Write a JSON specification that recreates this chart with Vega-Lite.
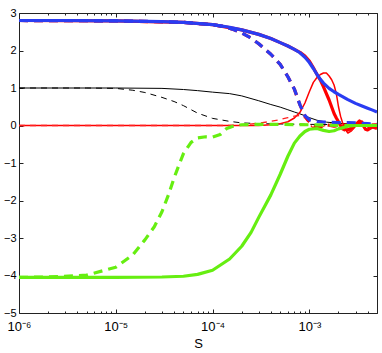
{
  "$schema": "https://vega.github.io/schema/vega-lite/v6.json",
  "width": 358,
  "height": 300,
  "autosize": {"type": "none"},
  "padding": {"left": 19, "top": 13, "right": 5, "bottom": 40},
  "background": "white",
  "config": {
    "view": {"stroke": "#222", "strokeWidth": 1},
    "axis": {
      "grid": false,
      "domain": false,
      "tickColor": "#222",
      "labelFont": "Liberation Sans",
      "labelFontSize": 11,
      "labelColor": "#000",
      "titleFont": "Liberation Sans",
      "titleFontSize": 13,
      "titleFontWeight": "normal",
      "titleColor": "#000",
      "labelOverlap": false,
      "labelFlush": false
    },
    "line": {"strokeCap": "butt", "strokeJoin": "round"}
  },
  "datasets": {
    "blueSolid": [
      {"S": 1e-6, "v": 2.80}, {"S": 3e-6, "v": 2.80}, {"S": 1e-5, "v": 2.79}, {"S": 3e-5, "v": 2.77},
      {"S": 5e-5, "v": 2.75}, {"S": 1e-4, "v": 2.69}, {"S": 1.5e-4, "v": 2.62}, {"S": 2e-4, "v": 2.55},
      {"S": 3e-4, "v": 2.43}, {"S": 4e-4, "v": 2.32}, {"S": 5e-4, "v": 2.21}, {"S": 6e-4, "v": 2.12},
      {"S": 7e-4, "v": 2.03}, {"S": 8e-4, "v": 1.94}, {"S": 9e-4, "v": 1.82}, {"S": 1e-3, "v": 1.68},
      {"S": 1.1e-3, "v": 1.52}, {"S": 1.2e-3, "v": 1.36}, {"S": 1.3e-3, "v": 1.23}, {"S": 1.4e-3, "v": 1.13},
      {"S": 1.6e-3, "v": 0.99}, {"S": 1.8e-3, "v": 0.9}, {"S": 2e-3, "v": 0.83}, {"S": 2.5e-3, "v": 0.69},
      {"S": 3e-3, "v": 0.59}, {"S": 3.5e-3, "v": 0.52}, {"S": 4e-3, "v": 0.46}, {"S": 4.5e-3, "v": 0.41},
      {"S": 5e-3, "v": 0.36}
    ],
    "blueDashed": [
      {"S": 1e-6, "v": 2.80}, {"S": 1e-5, "v": 2.79}, {"S": 3e-5, "v": 2.77}, {"S": 5e-5, "v": 2.75},
      {"S": 1e-4, "v": 2.69}, {"S": 1.3e-4, "v": 2.64}, {"S": 1.6e-4, "v": 2.57}, {"S": 2e-4, "v": 2.47},
      {"S": 2.5e-4, "v": 2.33}, {"S": 3e-4, "v": 2.18}, {"S": 4e-4, "v": 1.9}, {"S": 5e-4, "v": 1.63},
      {"S": 6e-4, "v": 1.3}, {"S": 7e-4, "v": 0.97}, {"S": 8e-4, "v": 0.55}, {"S": 9e-4, "v": 0.26},
      {"S": 1e-3, "v": 0.15}, {"S": 1.2e-3, "v": 0.1}, {"S": 1.5e-3, "v": 0.09}, {"S": 2e-3, "v": 0.08},
      {"S": 3e-3, "v": 0.07}, {"S": 4e-3, "v": 0.05}, {"S": 5e-3, "v": 0.04}
    ],
    "redThick": [
      {"S": 1e-6, "v": 2.80}, {"S": 1e-5, "v": 2.79}, {"S": 5e-5, "v": 2.75}, {"S": 1e-4, "v": 2.69},
      {"S": 2e-4, "v": 2.55}, {"S": 3e-4, "v": 2.43}, {"S": 4e-4, "v": 2.32}, {"S": 5e-4, "v": 2.21},
      {"S": 6e-4, "v": 2.12}, {"S": 7e-4, "v": 2.03}, {"S": 8e-4, "v": 1.95}, {"S": 9e-4, "v": 1.85},
      {"S": 1e-3, "v": 1.72}, {"S": 1.1e-3, "v": 1.54}, {"S": 1.2e-3, "v": 1.36}, {"S": 1.3e-3, "v": 1.21},
      {"S": 1.4e-3, "v": 1.03}, {"S": 1.6e-3, "v": 0.68}, {"S": 1.8e-3, "v": 0.32}, {"S": 1.9e-3, "v": 0.2},
      {"S": 2e-3, "v": 0.1}, {"S": 2.1e-3, "v": 0.0}, {"S": 2.3e-3, "v": -0.1}, {"S": 2.5e-3, "v": -0.12},
      {"S": 2.8e-3, "v": -0.05}, {"S": 3e-3, "v": 0.02}, {"S": 3.3e-3, "v": 0.12}, {"S": 3.5e-3, "v": 0.05},
      {"S": 3.8e-3, "v": -0.1}, {"S": 4e-3, "v": -0.12}, {"S": 4.5e-3, "v": -0.04}, {"S": 5e-3, "v": -0.08}
    ],
    "redThickDashed": [
      {"S": 1e-6, "v": 2.80}, {"S": 1e-5, "v": 2.79}, {"S": 5e-5, "v": 2.75}, {"S": 1e-4, "v": 2.69},
      {"S": 1.3e-4, "v": 2.64}, {"S": 1.6e-4, "v": 2.57}, {"S": 2e-4, "v": 2.47}, {"S": 2.5e-4, "v": 2.33},
      {"S": 3e-4, "v": 2.18}, {"S": 4e-4, "v": 1.9}, {"S": 5e-4, "v": 1.63}, {"S": 6e-4, "v": 1.3},
      {"S": 7e-4, "v": 0.97}, {"S": 8e-4, "v": 0.55}, {"S": 9e-4, "v": 0.26}, {"S": 1e-3, "v": 0.1},
      {"S": 1.1e-3, "v": -0.02}, {"S": 1.2e-3, "v": -0.06}, {"S": 1.3e-3, "v": -0.04}, {"S": 1.5e-3, "v": 0.02},
      {"S": 1.8e-3, "v": -0.02}, {"S": 2e-3, "v": 0.0}, {"S": 2.5e-3, "v": 0.02}, {"S": 3e-3, "v": 0.0},
      {"S": 3.5e-3, "v": 0.04}, {"S": 4e-3, "v": 0.0}, {"S": 5e-3, "v": 0.02}
    ],
    "blackSolid": [
      {"S": 1e-6, "v": 1.0}, {"S": 1e-5, "v": 1.0}, {"S": 3e-5, "v": 0.99}, {"S": 5e-5, "v": 0.96},
      {"S": 7e-5, "v": 0.93}, {"S": 1e-4, "v": 0.89}, {"S": 1.5e-4, "v": 0.85}, {"S": 2e-4, "v": 0.79},
      {"S": 3e-4, "v": 0.66}, {"S": 4e-4, "v": 0.56}, {"S": 5e-4, "v": 0.49}, {"S": 6e-4, "v": 0.42},
      {"S": 7e-4, "v": 0.36}, {"S": 8e-4, "v": 0.31}, {"S": 9e-4, "v": 0.26}, {"S": 1e-3, "v": 0.21},
      {"S": 1.2e-3, "v": 0.14}, {"S": 1.5e-3, "v": 0.09}, {"S": 2e-3, "v": 0.06}, {"S": 3e-3, "v": 0.04},
      {"S": 5e-3, "v": 0.03}
    ],
    "blackDashed": [
      {"S": 1e-6, "v": 1.0}, {"S": 5e-6, "v": 1.0}, {"S": 1e-5, "v": 0.99}, {"S": 1.5e-5, "v": 0.94},
      {"S": 2e-5, "v": 0.88}, {"S": 3e-5, "v": 0.75}, {"S": 4e-5, "v": 0.64}, {"S": 5e-5, "v": 0.53},
      {"S": 7e-5, "v": 0.33}, {"S": 1e-4, "v": 0.19}, {"S": 1.5e-4, "v": 0.11}, {"S": 2e-4, "v": 0.07},
      {"S": 3e-4, "v": 0.05}, {"S": 5e-4, "v": 0.04}, {"S": 1e-3, "v": 0.03}, {"S": 5e-3, "v": 0.02}
    ],
    "redThin": [
      {"S": 1e-6, "v": 0}, {"S": 1e-4, "v": 0}, {"S": 3e-4, "v": 0}, {"S": 4e-4, "v": 0.02},
      {"S": 5e-4, "v": 0.05}, {"S": 6e-4, "v": 0.1}, {"S": 7e-4, "v": 0.2}, {"S": 8e-4, "v": 0.35},
      {"S": 9e-4, "v": 0.6}, {"S": 1e-3, "v": 0.9}, {"S": 1.1e-3, "v": 1.15}, {"S": 1.2e-3, "v": 1.28},
      {"S": 1.3e-3, "v": 1.36}, {"S": 1.4e-3, "v": 1.4}, {"S": 1.5e-3, "v": 1.4}, {"S": 1.6e-3, "v": 1.32},
      {"S": 1.7e-3, "v": 1.22}, {"S": 1.8e-3, "v": 1.08}, {"S": 1.9e-3, "v": 0.85}, {"S": 2e-3, "v": 0.5},
      {"S": 2.1e-3, "v": 0.25}, {"S": 2.2e-3, "v": 0.08}, {"S": 2.35e-3, "v": -0.1}, {"S": 2.5e-3, "v": -0.2},
      {"S": 2.7e-3, "v": -0.15}, {"S": 3e-3, "v": -0.02}, {"S": 3.3e-3, "v": 0.1}, {"S": 3.5e-3, "v": 0.12},
      {"S": 3.8e-3, "v": 0.0}, {"S": 4.2e-3, "v": -0.08}, {"S": 4.6e-3, "v": -0.05}, {"S": 5e-3, "v": 0.02}
    ],
    "redThinDashed": [
      {"S": 1e-6, "v": 0}, {"S": 1.5e-4, "v": 0}, {"S": 2e-4, "v": 0.02}, {"S": 3e-4, "v": 0.06},
      {"S": 4e-4, "v": 0.11}, {"S": 5e-4, "v": 0.16}, {"S": 6e-4, "v": 0.21}, {"S": 7e-4, "v": 0.25},
      {"S": 8e-4, "v": 0.27}, {"S": 9e-4, "v": 0.2}, {"S": 1e-3, "v": 0.05}, {"S": 1.1e-3, "v": -0.08},
      {"S": 1.25e-3, "v": -0.1}, {"S": 1.4e-3, "v": -0.02}, {"S": 1.6e-3, "v": 0.05}, {"S": 1.9e-3, "v": 0.0},
      {"S": 2.2e-3, "v": -0.12}, {"S": 2.5e-3, "v": -0.18}, {"S": 2.8e-3, "v": -0.1}, {"S": 3.2e-3, "v": 0.05},
      {"S": 3.6e-3, "v": 0.08}, {"S": 4e-3, "v": -0.02}, {"S": 4.5e-3, "v": -0.06}, {"S": 5e-3, "v": 0.0}
    ],
    "greenSolid": [
      {"S": 1e-6, "v": -4.05}, {"S": 1e-5, "v": -4.05}, {"S": 3e-5, "v": -4.04}, {"S": 5e-5, "v": -4.02},
      {"S": 7e-5, "v": -3.97}, {"S": 1e-4, "v": -3.86}, {"S": 1.5e-4, "v": -3.56}, {"S": 2e-4, "v": -3.22},
      {"S": 2.5e-4, "v": -2.85}, {"S": 3e-4, "v": -2.45}, {"S": 4e-4, "v": -1.85}, {"S": 5e-4, "v": -1.3},
      {"S": 6e-4, "v": -0.82}, {"S": 7e-4, "v": -0.47}, {"S": 8e-4, "v": -0.28}, {"S": 9e-4, "v": -0.16},
      {"S": 1e-3, "v": -0.1}, {"S": 1.2e-3, "v": -0.08}, {"S": 1.4e-3, "v": -0.13}, {"S": 1.6e-3, "v": -0.16},
      {"S": 1.8e-3, "v": -0.14}, {"S": 2e-3, "v": -0.09}, {"S": 2.5e-3, "v": -0.02}, {"S": 3e-3, "v": 0.0},
      {"S": 5e-3, "v": 0.0}
    ],
    "greenDashed": [
      {"S": 1e-6, "v": -4.05}, {"S": 2e-6, "v": -4.04}, {"S": 5e-6, "v": -3.99}, {"S": 1e-5, "v": -3.78},
      {"S": 1.5e-5, "v": -3.45}, {"S": 2e-5, "v": -3.05}, {"S": 2.5e-5, "v": -2.7}, {"S": 3e-5, "v": -2.3},
      {"S": 3.5e-5, "v": -1.85}, {"S": 4e-5, "v": -1.4}, {"S": 4.5e-5, "v": -1.05}, {"S": 5e-5, "v": -0.75},
      {"S": 6e-5, "v": -0.45}, {"S": 7e-5, "v": -0.33}, {"S": 8.5e-5, "v": -0.3}, {"S": 1e-4, "v": -0.31},
      {"S": 1.2e-4, "v": -0.24}, {"S": 1.4e-4, "v": -0.08}, {"S": 1.7e-4, "v": 0.0}, {"S": 2e-4, "v": 0.02},
      {"S": 3e-4, "v": 0.03}, {"S": 5e-4, "v": 0.03}, {"S": 1e-3, "v": 0.02}, {"S": 2e-3, "v": 0.0},
      {"S": 5e-3, "v": 0.0}
    ]
  },
  "resolve": {"axis": {"x": "independent", "y": "independent"}},
  "layer": [
    {
      "data": {"name": "blackSolid"},
      "mark": {"type": "line", "color": "#000000", "strokeWidth": 1, "clip": true},
      "encoding": {
        "x": {
          "field": "S", "type": "quantitative",
          "scale": {"type": "log", "domain": [1e-6, 5e-3], "nice": false},
          "axis": {
            "orient": "bottom", "title": "S", "titlePadding": 2,
            "values": [1e-6, 2e-6, 3e-6, 4e-6, 5e-6, 6e-6, 7e-6, 8e-6, 9e-6, 1e-5, 2e-5, 3e-5, 4e-5, 5e-5, 6e-5, 7e-5, 8e-5, 9e-5, 1e-4, 2e-4, 3e-4, 4e-4, 5e-4, 6e-4, 7e-4, 8e-4, 9e-4, 1e-3, 2e-3, 3e-3, 4e-3, 5e-3],
            "tickSize": {"condition": {"test": "abs(log(datum.value)/LN10 - round(log(datum.value)/LN10)) < 0.001", "value": -4}, "value": -2},
            "labelPadding": 11,
            "labelFontSize": 13,
            "labelDx": 3,
            "labelExpr": "abs(log(datum.value)/LN10 - round(log(datum.value)/LN10)) > 0.001 ? '' : round(log(datum.value)/LN10) == -6 ? '10⁻⁶' : round(log(datum.value)/LN10) == -5 ? '10⁻⁵' : round(log(datum.value)/LN10) == -4 ? '10⁻⁴' : '10⁻³'"
          }
        },
        "y": {
          "field": "v", "type": "quantitative",
          "scale": {"domain": [-5, 3], "nice": false, "zero": false},
          "axis": {"orient": "left", "title": null, "values": [-5, -4, -3, -2, -1, 0, 1, 2, 3], "tickSize": -4, "labelPadding": 7, "format": "d"}
        }
      }
    },
    {
      "data": {"name": "blackDashed"},
      "mark": {"type": "line", "color": "#000000", "strokeWidth": 1, "strokeDash": [6, 5], "clip": true},
      "encoding": {
        "x": {"field": "S", "type": "quantitative", "scale": {"type": "log", "domain": [1e-6, 5e-3], "nice": false},
          "axis": {"orient": "top", "title": null, "labels": false,
            "values": [1e-6, 2e-6, 3e-6, 4e-6, 5e-6, 6e-6, 7e-6, 8e-6, 9e-6, 1e-5, 2e-5, 3e-5, 4e-5, 5e-5, 6e-5, 7e-5, 8e-5, 9e-5, 1e-4, 2e-4, 3e-4, 4e-4, 5e-4, 6e-4, 7e-4, 8e-4, 9e-4, 1e-3, 2e-3, 3e-3, 4e-3, 5e-3],
            "tickSize": {"condition": {"test": "abs(log(datum.value)/LN10 - round(log(datum.value)/LN10)) < 0.001", "value": -4}, "value": -2}}},
        "y": {"field": "v", "type": "quantitative", "scale": {"domain": [-5, 3], "nice": false, "zero": false},
          "axis": {"orient": "right", "title": null, "labels": false, "values": [-5, -4, -3, -2, -1, 0, 1, 2, 3], "tickSize": -4}}
      }
    },
    {
      "data": {"name": "redThin"},
      "mark": {"type": "line", "color": "#ff0000", "strokeWidth": 1.5, "clip": true},
      "encoding": {
        "x": {"field": "S", "type": "quantitative", "axis": null},
        "y": {"field": "v", "type": "quantitative", "axis": null}
      }
    },
    {
      "data": {"name": "redThinDashed"},
      "mark": {"type": "line", "color": "#ff2020", "strokeWidth": 1.3, "strokeDash": [6, 5], "clip": true},
      "encoding": {
        "x": {"field": "S", "type": "quantitative", "axis": null},
        "y": {"field": "v", "type": "quantitative", "axis": null}
      }
    },
    {
      "data": {"name": "redThickDashed"},
      "mark": {"type": "line", "color": "#ff0000", "strokeWidth": 3.2, "strokeDash": [9, 6], "clip": true},
      "encoding": {
        "x": {"field": "S", "type": "quantitative", "axis": null},
        "y": {"field": "v", "type": "quantitative", "axis": null}
      }
    },
    {
      "data": {"name": "redThick"},
      "mark": {"type": "line", "color": "#ff0000", "strokeWidth": 3.2, "clip": true},
      "encoding": {
        "x": {"field": "S", "type": "quantitative", "axis": null},
        "y": {"field": "v", "type": "quantitative", "axis": null}
      }
    },
    {
      "data": {"name": "blueDashed"},
      "mark": {"type": "line", "color": "#2a3cf2", "strokeWidth": 3.2, "strokeDash": [9, 6], "clip": true},
      "encoding": {
        "x": {"field": "S", "type": "quantitative", "axis": null},
        "y": {"field": "v", "type": "quantitative", "axis": null}
      }
    },
    {
      "data": {"name": "blueSolid"},
      "mark": {"type": "line", "color": "#2a3cf2", "strokeWidth": 3.2, "clip": true},
      "encoding": {
        "x": {"field": "S", "type": "quantitative", "axis": null},
        "y": {"field": "v", "type": "quantitative", "axis": null}
      }
    },
    {
      "data": {"name": "greenDashed"},
      "mark": {"type": "line", "color": "#66ee11", "strokeWidth": 3.2, "strokeDash": [9, 6], "clip": true},
      "encoding": {
        "x": {"field": "S", "type": "quantitative", "axis": null},
        "y": {"field": "v", "type": "quantitative", "axis": null}
      }
    },
    {
      "data": {"name": "greenSolid"},
      "mark": {"type": "line", "color": "#66ee11", "strokeWidth": 3.2, "clip": true},
      "encoding": {
        "x": {"field": "S", "type": "quantitative", "axis": null},
        "y": {"field": "v", "type": "quantitative", "axis": null}
      }
    }
  ]
}
